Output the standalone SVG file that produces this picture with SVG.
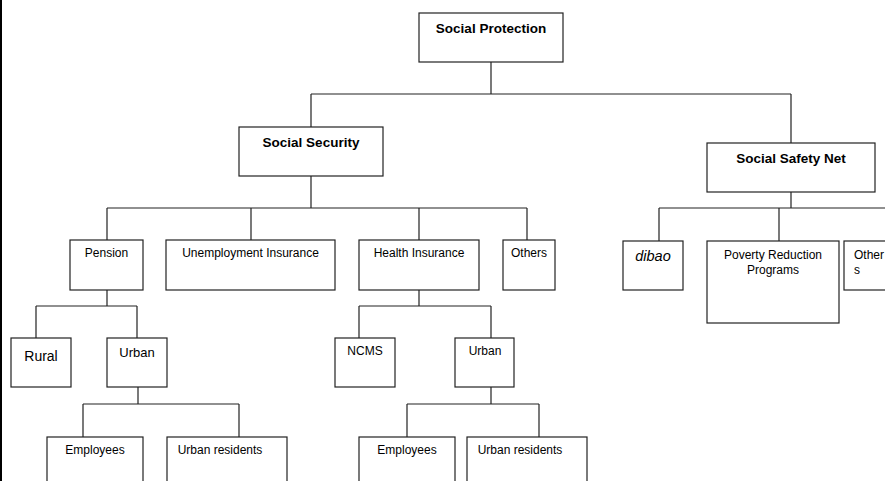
<svg xmlns="http://www.w3.org/2000/svg" width="885" height="481" viewBox="0 0 885 481">
<style>
.box{fill:#fff;stroke:#222;stroke-width:1.2}
.con{fill:none;stroke:#222;stroke-width:1.2}
text{font-family:"Liberation Sans",Arial,sans-serif;fill:#000;font-size:12px;text-anchor:middle}
.h{font-weight:bold;font-size:13.5px}
.l{text-anchor:start}
</style>
<rect x="0" y="0" width="2" height="481" fill="#000"/>
<g id="connectors">
<path class="con" d="M491,62V94M311,94H791M311,94V127M791,94V143"/>
<path class="con" d="M311,176V208M107,208H527M107,208V240M251,208V240M419,208V240M527,208V240"/>
<path class="con" d="M791,192V208M659,208H886M659,208V241M779,208V241"/>
<path class="con" d="M107,290V306M36,306H137M36,306V338M137,306V338"/>
<path class="con" d="M138,387V404M83,404H239M83,404V437M239,404V437"/>
<path class="con" d="M419,290V306M359,306H491M359,306V338M491,306V338"/>
<path class="con" d="M491,387V404M407,404H539M407,404V437M539,404V437"/>
</g>
<g id="social-protection"><rect class="box" x="419" y="13" width="144" height="49"/><text class="h" x="491" y="33">Social Protection</text></g>
<g id="social-security"><rect class="box" x="239" y="127" width="144" height="49"/><text class="h" x="311" y="147">Social Security</text></g>
<g id="social-safety-net"><rect class="box" x="707" y="143" width="168" height="49"/><text class="h" x="791" y="163">Social Safety Net</text></g>
<g id="pension"><rect class="box" x="70" y="240" width="73" height="50"/><text x="106.5" y="257">Pension</text></g>
<g id="unemployment"><rect class="box" x="166" y="240" width="169" height="50"/><text x="250.5" y="257">Unemployment Insurance</text></g>
<g id="health"><rect class="box" x="359" y="240" width="120" height="50"/><text x="419" y="257">Health Insurance</text></g>
<g id="others-ss"><rect class="box" x="503" y="240" width="52" height="50"/><text x="529" y="257">Others</text></g>
<g id="dibao"><rect class="box" x="623" y="241" width="60" height="49"/><text x="653" y="261" style="font-style:italic;font-size:14.5px">dibao</text></g>
<g id="poverty"><rect class="box" x="707" y="241" width="132" height="82"/><text x="773" y="259">Poverty Reduction</text><text x="773" y="274">Programs</text></g>
<g id="others-sn"><rect class="box" x="844" y="241" width="60" height="49"/><text class="l" x="854" y="259">Other</text><text class="l" x="854" y="274">s</text></g>
<g id="rural"><rect class="box" x="11" y="338" width="60" height="49"/><text x="41" y="361" style="font-size:14px">Rural</text></g>
<g id="urban-p"><rect class="box" x="107" y="338" width="60" height="49"/><text x="137" y="357" style="font-size:13px">Urban</text></g>
<g id="ncms"><rect class="box" x="335" y="338" width="60" height="49"/><text x="365" y="355">NCMS</text></g>
<g id="urban-h"><rect class="box" x="455" y="338" width="59" height="49"/><text x="485" y="355">Urban</text></g>
<g id="employees-p"><rect class="box" x="47" y="437" width="96" height="60"/><text x="95" y="454">Employees</text></g>
<g id="residents-p"><rect class="box" x="167" y="437" width="120" height="60"/><text x="220" y="454">Urban residents</text></g>
<g id="employees-h"><rect class="box" x="359" y="437" width="96" height="60"/><text x="407" y="454">Employees</text></g>
<g id="residents-h"><rect class="box" x="467" y="437" width="120" height="60"/><text x="520" y="454">Urban residents</text></g>
</svg>
